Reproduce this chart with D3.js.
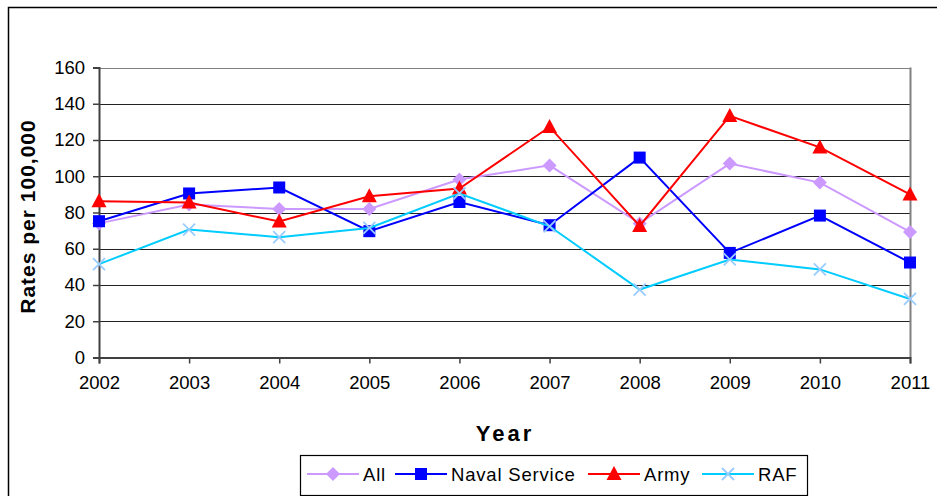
<!DOCTYPE html>
<html>
<head>
<meta charset="utf-8">
<script src="https://cdn.jsdelivr.net/npm/d3@7/dist/d3.min.js"></script>
<style>
  body { margin: 0; background: #fff; }
  svg text { font-family: "Liberation Sans", Arial, sans-serif; fill: #000; }
</style>
</head>
<body>
<svg id="chart" width="937" height="496"></svg>
<script>
// data
const years = ['2002', '2003', '2004', '2005', '2006', '2007', '2008', '2009', '2010', '2011'];
const allRates = [74, 84.4, 82, 82, 98.2, 106, 74, 107, 96.5, 69.3];
const navalRates = [75.2, 90.5, 93.8, 69.7, 85.8, 73, 110.3, 57.7, 78.3, 52.4];
const armyRates = [86.2, 85.5, 75, 89, 93.2, 127.2, 72.6, 133.3, 115.9, 90];
const rafRates = [51.5, 70.6, 66.4, 71.5, 90.5, 72.4, 37.5, 54.1, 48.6, 32.3];
const yTicks = [0, 20, 40, 60, 80, 100, 120, 140, 160];

const series = [
  {name: 'All', values: allRates, line: '#CC99FF', marker: '#CC99FF', shape: 'diamond'},
  {name: 'Naval Service', values: navalRates, line: '#0000FF', marker: '#0000FF', shape: 'square'},
  {name: 'Army', values: armyRates, line: '#FF0000', marker: '#FF0000', shape: 'triangle'},
  {name: 'RAF', values: rafRates, line: '#00CCFF', marker: '#99CCFF', shape: 'cross'},
];

const svg = d3.select('#chart');
const plotLeft = 99, plotRight = 910, plotTop = 67.5, plotBottom = 357.5;

// outer frame
svg.append('rect')
  .attr('x', 8.5).attr('y', 7.5)
  .attr('width', 940).attr('height', 500)
  .attr('fill', 'none').attr('stroke', '#000').attr('stroke-width', 1.5);

const x = d3.scalePoint().domain(years).range([plotLeft, plotRight]);
const y = d3.scaleLinear().domain([0, 160]).range([plotBottom, plotTop]);

// gridlines
svg.append('g')
  .selectAll('line')
  .data(yTicks.filter(d => d > 0))
  .enter()
  .append('line')
  .attr('x1', plotLeft).attr('x2', plotRight)
  .attr('y1', d => Math.round(y(d)) + 0.5)
  .attr('y2', d => Math.round(y(d)) + 0.5)
  .attr('stroke', d => d === 160 ? '#808080' : '#222')
  .attr('stroke-width', 1);

// right border of plot area
svg.append('line')
  .attr('x1', plotRight + 0.5).attr('x2', plotRight + 0.5)
  .attr('y1', plotTop).attr('y2', plotBottom)
  .attr('stroke', '#808080').attr('stroke-width', 2);

// y axis
const yAxis = svg.append('g')
  .attr('transform', `translate(${plotLeft},0)`)
  .call(d3.axisLeft(y).tickValues(yTicks).tickSize(6).tickPadding(8));
yAxis.select('.domain').attr('stroke', '#404040').attr('stroke-width', 2);
yAxis.selectAll('.tick line').attr('stroke', '#404040').attr('stroke-width', 1.5);
yAxis.selectAll('text').attr('font-size', '18.5px')
  .style('font-family', '"Liberation Sans", Arial, sans-serif');

// x axis
const xAxis = svg.append('g')
  .attr('transform', `translate(0,${plotBottom})`)
  .call(d3.axisBottom(x).tickSize(6).tickPadding(12));
xAxis.select('.domain').attr('stroke', '#404040').attr('stroke-width', 2);
xAxis.selectAll('.tick line').attr('stroke', '#404040').attr('stroke-width', 1.5);
xAxis.selectAll('text').attr('font-size', '18.5px')
  .style('font-family', '"Liberation Sans", Arial, sans-serif');

// axis titles
svg.append('text')
  .attr('transform', `translate(35,${(plotTop + plotBottom) / 2 + 4}) rotate(-90)`)
  .attr('text-anchor', 'middle')
  .attr('font-size', '21px').attr('font-weight', 'bold')
  .attr('letter-spacing', '1px')
  .text('Rates per 100,000');

svg.append('text')
  .attr('x', 505).attr('y', 441)
  .attr('text-anchor', 'middle')
  .attr('font-size', '22px').attr('font-weight', 'bold')
  .attr('letter-spacing', '3px')
  .text('Year');

function drawMarker(g, shape, color, cx, cy) {
  if (shape === 'diamond') {
    g.append('path')
      .attr('d', `M${cx},${cy - 7}L${cx + 7},${cy}L${cx},${cy + 7}L${cx - 7},${cy}Z`)
      .attr('fill', color);
  } else if (shape === 'square') {
    g.append('rect')
      .attr('x', cx - 6).attr('y', cy - 6)
      .attr('width', 12).attr('height', 12)
      .attr('fill', color);
  } else if (shape === 'triangle') {
    g.append('path')
      .attr('d', `M${cx},${cy - 8}L${cx + 7.5},${cy + 6}L${cx - 7.5},${cy + 6}Z`)
      .attr('fill', color);
  } else {
    g.append('path')
      .attr('d', `M${cx - 6},${cy - 6}L${cx + 6},${cy + 6}M${cx + 6},${cy - 6}L${cx - 6},${cy + 6}`)
      .attr('stroke', color).attr('stroke-width', 1.8).attr('fill', 'none');
  }
}

const line = d3.line()
  .x((d, i) => x(years[i]))
  .y(d => y(d));

series.forEach(s => {
  const g = svg.append('g');
  g.append('path')
    .datum(s.values)
    .attr('d', line)
    .attr('fill', 'none')
    .attr('stroke', s.line)
    .attr('stroke-width', 2);
  s.values.forEach((v, i) => drawMarker(g, s.shape, s.marker, x(years[i]), y(v)));
});

// legend
const legend = svg.append('g');
legend.append('rect')
  .attr('x', 300.5).attr('y', 455.5)
  .attr('width', 507).attr('height', 40)
  .attr('fill', '#fff').attr('stroke', '#000').attr('stroke-width', 1.2);

const legendX = [307, 395, 588, 702];
series.forEach((s, i) => {
  const lx = legendX[i], ly = 474;
  legend.append('line')
    .attr('x1', lx).attr('x2', lx + 52)
    .attr('y1', ly).attr('y2', ly)
    .attr('stroke', s.line).attr('stroke-width', 2);
  drawMarker(legend, s.shape, s.marker, lx + 26, ly);
  legend.append('text')
    .attr('x', lx + 56).attr('y', ly + 6.5)
    .attr('font-size', '18.5px')
    .attr('letter-spacing', '0.8px')
    .text(s.name);
});
</script>
</body>
</html>
